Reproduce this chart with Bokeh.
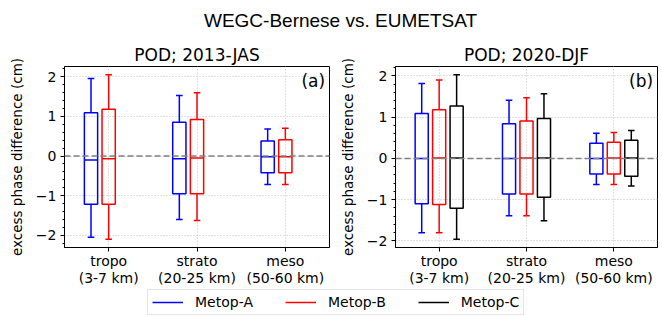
import numpy as np
from bokeh.plotting import figure
from bokeh.layouts import column, row
from bokeh.models import (ColumnDataSource, FixedTicker, Span, Label, Legend, LegendItem, Range1d)
from bokeh.embed import file_html
from bokeh.resources import INLINE

# ---------------- data ----------------
categories = ["tropo\n(3-7 km)", "strato\n(20-25 km)", "meso\n(50-60 km)"]
cat_pos = [1, 2, 3]
y_ticks = [-2, -1, 0, 1, 2]
y_tick_labels = ["\u22122", "\u22121", "0", "1", "2"]

# box statistics per category: whisker low, q1, median, q3, whisker high
jas_metopA_lo = [-2.05, -1.60, -0.72]
jas_metopA_q1 = [-1.22, -0.95, -0.42]
jas_metopA_med = [-0.10, -0.07, -0.02]
jas_metopA_q3 = [1.09, 0.85, 0.38]
jas_metopA_hi = [1.96, 1.53, 0.68]

jas_metopB_lo = [-2.10, -1.63, -0.72]
jas_metopB_q1 = [-1.22, -0.95, -0.42]
jas_metopB_med = [-0.07, -0.05, -0.02]
jas_metopB_q3 = [1.18, 0.92, 0.41]
jas_metopB_hi = [2.05, 1.60, 0.70]

djf_metopA_lo = [-1.80, -1.39, -0.63]
djf_metopA_q1 = [-1.10, -0.86, -0.38]
djf_metopA_med = [0.00, 0.00, 0.00]
djf_metopA_q3 = [1.09, 0.84, 0.37]
djf_metopA_hi = [1.82, 1.41, 0.61]

djf_metopB_lo = [-1.80, -1.39, -0.63]
djf_metopB_q1 = [-1.12, -0.86, -0.38]
djf_metopB_med = [0.01, 0.01, 0.01]
djf_metopB_q3 = [1.18, 0.91, 0.39]
djf_metopB_hi = [1.90, 1.47, 0.63]

djf_metopC_lo = [-1.96, -1.51, -0.67]
djf_metopC_q1 = [-1.21, -0.94, -0.43]
djf_metopC_med = [0.01, 0.01, 0.01]
djf_metopC_q3 = [1.27, 0.97, 0.44]
djf_metopC_hi = [2.03, 1.57, 0.68]

series_names = ["Metop-A", "Metop-B", "Metop-C"]
series_colors = ["#0000ff", "#ff0000", "#000000"]

FONT = "DejaVu Sans"
BOX_W = 0.15
CAP_W = 0.075


def make_panel(title, tag, series, offsets, yr, width, bl, br, show_tag_y):
    p = figure(width=width, height=257, output_backend="svg", toolbar_location=None,
               x_range=Range1d(0.5, 3.5), y_range=Range1d(*yr),
               min_border_left=bl, min_border_right=br, min_border_top=34, min_border_bottom=42,
               background_fill_color="white", border_fill_color="white")
    p.title.text = title
    p.title.text_font = FONT
    p.title.text_font_size = "17px"
    p.title.text_font_style = "normal"
    p.title.text_color = "black"
    p.title.align = "center"
    p.title.standoff = 4
    p.title.offset = 0
    p.outline_line_color = "black"
    p.outline_line_width = 1
    p.outline_line_alpha = 1

    # grid
    p.xgrid.ticker = FixedTicker(ticks=cat_pos)
    p.ygrid.ticker = FixedTicker(ticks=y_ticks)
    for g in (p.xgrid, p.ygrid):
        g.grid_line_color = "#c0c0c0"
        g.grid_line_dash = "1 2"
        g.grid_line_width = 1

    # axes
    minor = [float(v) for v in np.round(np.arange(-2.2, 2.21, 0.2), 1) if abs(v - round(v)) > 1e-6]
    p.yaxis.ticker = FixedTicker(ticks=y_ticks, minor_ticks=minor)
    p.yaxis.major_label_overrides = {t: l for t, l in zip(y_ticks, y_tick_labels)}
    p.xaxis.ticker = FixedTicker(ticks=cat_pos)
    p.xaxis.major_label_overrides = {c: l for c, l in zip(cat_pos, categories)}
    p.yaxis.axis_label = "excess phase difference (cm)"
    for ax in (p.xaxis, p.yaxis):
        ax.axis_line_color = "black"
        ax.major_tick_line_color = "black"
        ax.minor_tick_line_color = "black"
        ax.major_tick_in = 0
        ax.major_tick_out = 4
        ax.minor_tick_in = 0
        ax.minor_tick_out = 2
        ax.major_label_text_font = FONT
        ax.major_label_text_font_size = "14px"
        ax.major_label_text_color = "black"
        ax.major_label_standoff = 4
        ax.axis_label_text_font = FONT
        ax.axis_label_text_font_size = "13.5px"
        ax.axis_label_text_font_style = "normal"
        ax.axis_label_text_color = "black"
    p.xaxis.minor_tick_out = 0
    p.xaxis.major_label_standoff = 1
    p.xaxis.major_label_text_line_height = 1.1
    p.yaxis.axis_label_standoff = 8

    # zero line
    p.add_layout(Span(location=0, dimension="width", line_color="#808080",
                      line_dash="6 3", line_width=1.5))

    for (lo, q1, med, q3, hi), off, color in zip(series, offsets, series_colors):
        x = [c + off for c in cat_pos]
        src = ColumnDataSource(dict(
            x=x, left=[v - BOX_W / 2 for v in x], right=[v + BOX_W / 2 for v in x],
            cl=[v - CAP_W / 2 for v in x], cr=[v + CAP_W / 2 for v in x],
            lo=lo, q1=q1, med=med, q3=q3, hi=hi))
        p.segment(x0="x", y0="q3", x1="x", y1="hi", source=src, line_color=color, line_width=1.5)
        p.segment(x0="x", y0="q1", x1="x", y1="lo", source=src, line_color=color, line_width=1.5)
        p.segment(x0="cl", y0="hi", x1="cr", y1="hi", source=src, line_color=color, line_width=1.5)
        p.segment(x0="cl", y0="lo", x1="cr", y1="lo", source=src, line_color=color, line_width=1.5)
        p.quad(left="left", right="right", bottom="q1", top="q3", source=src,
               fill_color=None, line_color=color, line_width=1.5)
        p.segment(x0="left", y0="med", x1="right", y1="med", source=src, line_color=color, line_width=1.5)

    p.add_layout(Label(x=3.45, y=show_tag_y, text=tag, text_align="right", text_baseline="middle",
                       text_font=FONT, text_font_size="17px", text_color="black"))
    return p


p1 = make_panel("POD; 2013-JAS", "(a)",
                [(jas_metopA_lo, jas_metopA_q1, jas_metopA_med, jas_metopA_q3, jas_metopA_hi),
                 (jas_metopB_lo, jas_metopB_q1, jas_metopB_med, jas_metopB_q3, jas_metopB_hi)],
                [-0.2, 0.0], (-2.31, 2.26), 336, 64, 7, 1.9)
p2 = make_panel("POD; 2020-DJF", "(b)",
                [(djf_metopA_lo, djf_metopA_q1, djf_metopA_med, djf_metopA_q3, djf_metopA_hi),
                 (djf_metopB_lo, djf_metopB_q1, djf_metopB_med, djf_metopB_q3, djf_metopB_hi),
                 (djf_metopC_lo, djf_metopC_q1, djf_metopC_med, djf_metopC_q3, djf_metopC_hi)],
                [-0.2, 0.0, 0.2], (-2.16, 2.23), 324, 56, 3, 1.88)

# main title
tf = figure(width=660, height=32, output_backend="svg", toolbar_location=None,
            x_range=Range1d(0, 660), y_range=Range1d(0, 32),
            min_border=0, outline_line_color=None)
tf.axis.visible = False
tf.grid.visible = False
tf.add_layout(Label(x=340, y=12, text="WEGC-Bernese vs. EUMETSAT", text_align="center",
                    text_baseline="middle", text_font="Liberation Sans",
                    text_font_size="19px", text_color="black"))

# legend
lf = figure(width=660, height=26, output_backend="svg", toolbar_location=None,
            x_range=Range1d(0, 1), y_range=Range1d(0, 1),
            min_border=0, outline_line_color=None)
lf.axis.visible = False
lf.grid.visible = False
items = []
for name, color in zip(series_names, series_colors):
    r = lf.line(x=[-2, -1], y=[-2, -2], line_color=color, line_width=1.5)
    items.append(LegendItem(label=name, renderers=[r]))
leg = Legend(items=items, orientation="horizontal", location=(147, 0),
             label_text_font=FONT, label_text_font_size="14px", label_text_color="black",
             glyph_width=31, glyph_height=16, label_height=16, label_standoff=12,
             spacing=32, padding=4, margin=0,
             border_line_color="#cccccc", border_line_width=1,
             background_fill_color="white")
lf.add_layout(leg, "center")

layout = column(tf, row(p1, p2), lf)
open("out.html", "w").write(file_html(layout, INLINE))
